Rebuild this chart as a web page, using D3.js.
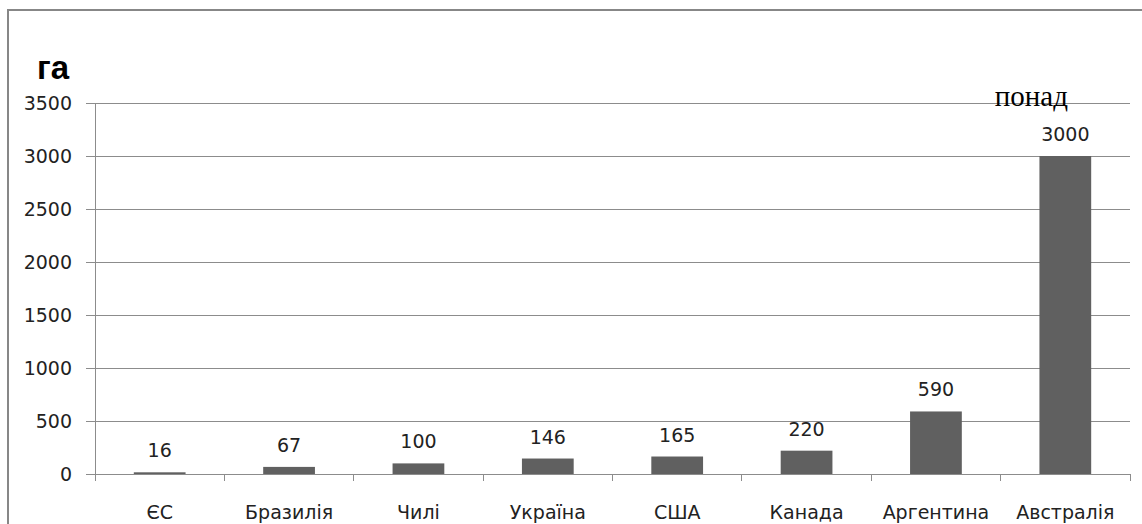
<!DOCTYPE html>
<html><head><meta charset="utf-8">
<script src="https://cdn.jsdelivr.net/npm/d3@7"></script>
<style>html,body{margin:0;padding:0;background:#fff;overflow:hidden}</style>
</head><body>
<svg id="c" width="1142" height="524"></svg>
<script>
const categories = ["ЄС","Бразилія","Чилі","Україна","США","Канада","Аргентина","Австралія"];
const values = [16,67,100,146,165,220,590,3000];
const yTicks = [0,500,1000,1500,2000,2500,3000,3500];
const unitLabel = "га";
const noteLabel = "понад";

const svg = d3.select("#c");
const m = {left:95, right:1130, top:103, bottom:474};
const font = "'DejaVu Sans', sans-serif";

// outer frame
svg.append("rect").attr("x",8).attr("y",10).attr("width",1200).attr("height",600)
  .attr("fill","none").attr("stroke","#878787").attr("stroke-width",2);

const x = d3.scaleBand().domain(categories).range([m.left,m.right]).paddingInner(0.6).paddingOuter(0.3);
const xb = d3.scaleBand().domain(categories).range([m.left,m.right]).padding(0);
const y = d3.scaleLinear().domain([0,3500]).range([m.bottom,m.top]);

// gridlines + y ticks
const yAxis = d3.axisLeft(y).tickValues(yTicks).tickSize(-(m.right-m.left)).tickSizeOuter(0).tickPadding(23).tickFormat(d3.format("d"));
const gy = svg.append("g").attr("transform",`translate(${m.left},0)`).call(yAxis);
gy.select(".domain").remove();
gy.selectAll(".tick line").attr("stroke","#8c8c8c").attr("x1",-9).attr("shape-rendering","crispEdges");
gy.selectAll(".tick text").attr("font-family",font).attr("font-size",19).attr("fill","#222");

// y axis line
svg.append("line").attr("x1",m.left).attr("x2",m.left).attr("y1",m.top).attr("y2",m.bottom)
  .attr("stroke","#8c8c8c").attr("shape-rendering","crispEdges");

// bars
svg.selectAll("rect.bar").data(values).join("rect").attr("class","bar")
  .attr("x",(d,i)=>x(categories[i])).attr("width",x.bandwidth())
  .attr("y",d=>y(d)).attr("height",d=>y(0)-y(d)).attr("fill","#606060");

// x axis
const xAxis = d3.axisBottom(xb).tickSize(0).tickPadding(0);
const gx = svg.append("g").attr("transform",`translate(0,${m.bottom})`).call(xAxis);
gx.select(".domain").remove();
gx.selectAll(".tick text").attr("font-family",font).attr("font-size",19).attr("fill","#222")
  .attr("dy",null).attr("y",45);
svg.append("line").attr("x1",m.left).attr("x2",m.right).attr("y1",m.bottom).attr("y2",m.bottom)
  .attr("stroke","#8c8c8c").attr("shape-rendering","crispEdges");
const bounds = categories.map(c=>xb(c)).concat([m.right]);
svg.selectAll("line.xt").data(bounds).join("line").attr("class","xt")
  .attr("x1",d=>d).attr("x2",d=>d).attr("y1",m.bottom).attr("y2",m.bottom+7)
  .attr("stroke","#8c8c8c").attr("shape-rendering","crispEdges");

// value labels
svg.selectAll("text.val").data(values).join("text").attr("class","val")
  .attr("x",(d,i)=>x(categories[i])+x.bandwidth()/2).attr("y",d=>y(d)-15)
  .attr("text-anchor","middle").attr("font-family",font).attr("font-size",19).attr("fill","#222")
  .text(d=>d);

// unit label
svg.append("text").attr("x",37).attr("y",79).attr("font-family","'Liberation Sans', Arial, sans-serif")
  .attr("font-weight","bold").attr("font-size",33).attr("fill","#000").text(unitLabel);

// note label
const last = categories[categories.length-1];
svg.append("text").attr("x",x(last)+x.bandwidth()/2-34).attr("y",106)
  .attr("text-anchor","middle").attr("font-family","'Liberation Serif', 'Times New Roman', serif")
  .attr("font-size",29).attr("fill","#000").text(noteLabel);
</script>
</body></html>
